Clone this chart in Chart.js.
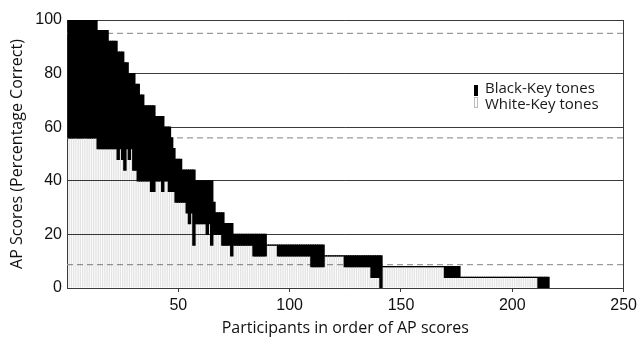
<!DOCTYPE html>
<html>
<head>
<meta charset="utf-8">
<script src="https://cdn.jsdelivr.net/npm/chart.js@4.4.1/dist/chart.umd.min.js"></script>
<style>
  html, body { margin: 0; padding: 0; background: #fff; }
  canvas { display: block; }
</style>
</head>
<body>
<canvas id="apChart" width="641" height="343"></canvas>
<script>
// per-participant scores (sorted by total AP score), split by key colour
const whiteKey = [
  56,56,56,56,56,56,56,56,56,56,56,56,56,52,52,52,52,52,52,52,
  52,52,48,52,48,44,52,48,52,44,44,40,40,40,40,40,40,36,36,40,
  40,40,36,40,40,36,36,36,32,32,32,32,32,28,24,28,16,24,24,24,
  24,24,20,24,16,20,20,20,20,16,16,16,16,12,16,16,16,16,16,16,
  16,16,16,12,12,12,12,12,12,16,16,16,16,16,12,12,12,12,12,12,
  12,12,12,12,12,12,12,12,12,8,8,8,8,8,8,12,12,12,12,12,
  12,12,12,12,8,8,8,8,8,8,8,8,8,8,8,8,4,4,4,4,
  0,8,8,8,8,8,8,8,8,8,8,8,8,8,8,8,8,8,8,8,
  8,8,8,8,8,8,8,8,8,4,4,4,4,4,4,4,4,4,4,4,
  4,4,4,4,4,4,4,4,4,4,4,4,4,4,4,4,4,4,4,4,
  4,4,4,4,4,4,4,4,4,4,4,0,0,0,0,0
];
const blackKey = [
  44,44,44,44,44,44,44,44,44,44,44,44,44,44,44,44,44,44,40,40,
  40,40,40,36,40,40,32,32,28,36,32,36,32,32,28,28,28,32,32,24,
  24,24,28,20,20,24,20,16,16,16,16,12,12,16,20,16,28,16,16,16,
  16,16,20,16,24,12,8,8,8,12,8,8,8,12,4,4,4,4,4,4,
  4,4,4,8,8,8,8,8,8,0,0,0,0,0,4,4,4,4,4,4,
  4,4,4,4,4,4,4,4,4,8,8,8,8,8,8,0,0,0,0,0,
  0,0,0,0,4,4,4,4,4,4,4,4,4,4,4,4,8,8,8,8,
  12,0,0,0,0,0,0,0,0,0,0,0,0,0,0,0,0,0,0,0,
  0,0,0,0,0,0,0,0,0,4,4,4,4,4,4,4,0,0,0,0,
  0,0,0,0,0,0,0,0,0,0,0,0,0,0,0,0,0,0,0,0,
  0,0,0,0,0,0,0,0,0,0,0,4,4,4,4,4
];
const xTicks = [50, 100, 150, 200, 250];
const yTicks = [0, 20, 40, 60, 80, 100];
const refLines = [95, 56, 8.7];
const legendLabels = ['Black-Key tones', 'White-Key tones'];

const participants = whiteKey.map((v, i) => i + 1);
const toPoints = arr => arr.map((v, i) => ({ x: participants[i], y: v }));

const axisColor = '#3a3a3a';

// legend sits inside the plot, so draw it by hand
const keyLegend = {
  id: 'keyLegend',
  afterDraw(chart) {
    const ctx = chart.ctx;
    ctx.save();
    ctx.fillStyle = '#000';
    ctx.fillRect(474, 85, 4, 11);
    ctx.fillStyle = '#fff';
    ctx.strokeStyle = '#bbb';
    ctx.lineWidth = 1;
    ctx.fillRect(474, 97, 4, 11);
    ctx.strokeRect(474.5, 97.5, 3, 10);
    ctx.font = '15px "Open Sans"';
    ctx.textBaseline = 'middle';
    ctx.fillStyle = '#1a1a1a';
    ctx.fillText(legendLabels[0], 485, 89);
    ctx.fillText(legendLabels[1], 485, 105);
    ctx.restore();
  }
};

const datasets = [
  { type: 'bar', label: 'White-Key tones', data: toPoints(whiteKey), order: 0,
    backgroundColor: 'rgba(0,0,0,0.11)', borderWidth: 0, barPercentage: 0.62, categoryPercentage: 1,
    inflateAmount: 0 },
  { type: 'bar', label: 'Black-Key tones', data: toPoints(blackKey), order: 0,
    backgroundColor: '#000', borderWidth: 0, barPercentage: 1, categoryPercentage: 1,
    inflateAmount: 0.6 }
];
refLines.forEach((v, i) => {
  datasets.push({
    type: 'line', label: 'ref' + i, stack: 'ref' + i, order: 1,
    data: [{ x: 0, y: v }, { x: 250, y: v }],
    borderColor: '#9a9a9a', borderWidth: 1.2, borderDash: [6, 4],
    pointRadius: 0, fill: false
  });
});

new Chart(document.getElementById('apChart'), {
  type: 'bar',
  data: { datasets: datasets },
  plugins: [keyLegend],
  options: {
    responsive: false,
    animation: false,
    layout: { padding: { left: 0, right: 14, top: 20, bottom: 0 } },
    plugins: { legend: { display: false }, tooltip: { enabled: false } },
    scales: {
      x: {
        type: 'linear', min: 0, max: 250, stacked: true, offset: false,
        afterBuildTicks: s => { s.ticks = xTicks.map(v => ({ value: v })); },
        afterFit: s => { s.height = 55; },
        grid: {
          offset: false, drawTicks: true, tickLength: 4, tickColor: axisColor,
          color: c => (c.tick && c.tick.value === 250) ? axisColor : 'rgba(0,0,0,0)'
        },
        border: { display: true, color: axisColor, width: 1 },
        ticks: { padding: 4, color: '#111', font: { family: 'Liberation Sans', size: 16 } },
        title: { display: true, text: 'Participants in order of AP scores', color: '#111',
                 font: { family: 'Open Sans', size: 16 }, padding: { top: 0, bottom: 5 } }
      },
      y: {
        min: 0, max: 100, stacked: true,
        afterBuildTicks: s => { s.ticks = yTicks.map(v => ({ value: v })); },
        afterFit: s => { s.width = 67; },
        grid: { color: axisColor, lineWidth: 1, drawTicks: false },
        border: { display: true, color: axisColor, width: 1 },
        ticks: { padding: 5, color: '#111', font: { family: 'Liberation Sans', size: 16 } },
        title: { display: true, text: 'AP Scores (Percentage Correct)', color: '#111',
                 font: { family: 'Open Sans', size: 16 }, padding: { top: 8, bottom: 0 } }
      }
    }
  }
});
</script>
</body>
</html>
